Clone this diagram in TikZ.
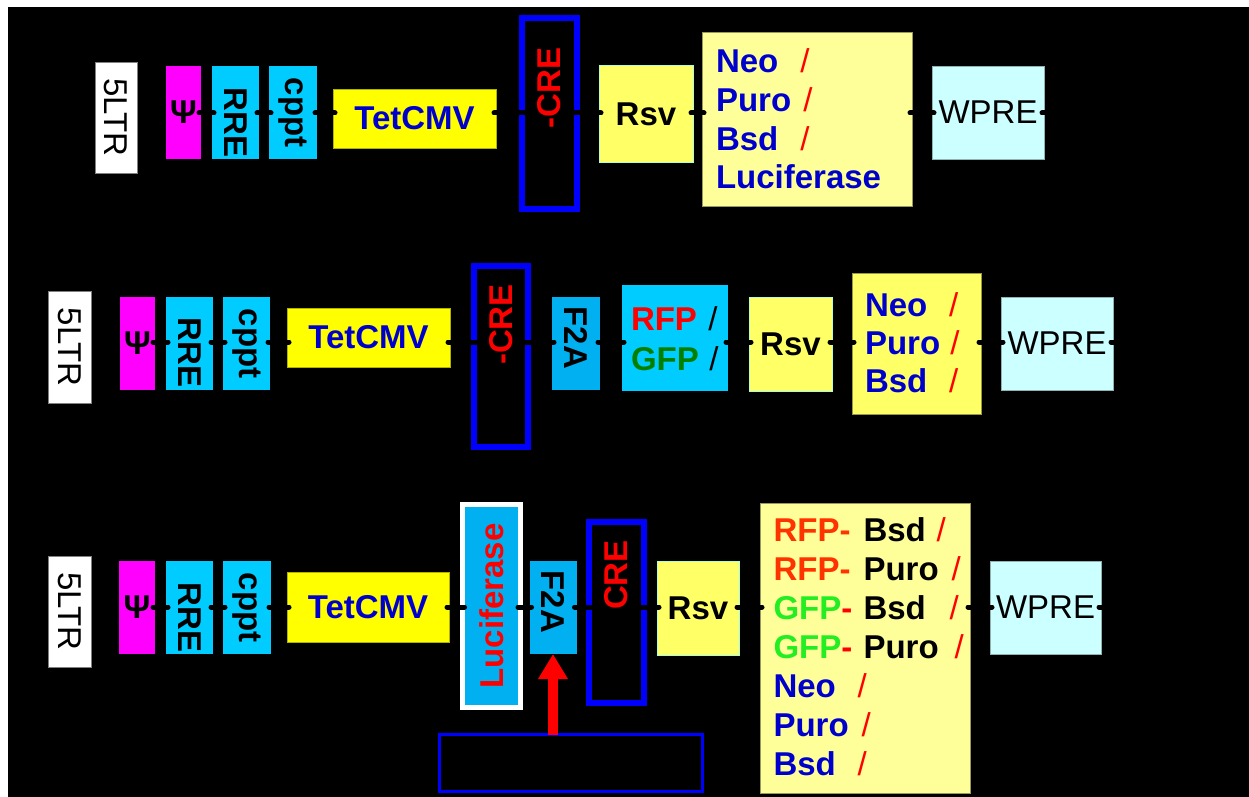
\documentclass[tikz,border=0pt]{standalone}
\usepackage{fontspec}
\setmainfont{Liberation Sans}
\usetikzlibrary{arrows.meta}
\definecolor{cyanb}{HTML}{00CCFF}
\definecolor{magb}{HTML}{FF00FF}
\definecolor{f2ab}{HTML}{00B0F0}
\definecolor{tety}{HTML}{FFFF00}
\definecolor{rsvy}{HTML}{FFFF66}
\definecolor{paley}{HTML}{FFFF99}
\definecolor{wprec}{HTML}{CCFFFF}
\definecolor{txtblue}{HTML}{0000CC}
\definecolor{crebl}{HTML}{0000FF}
\definecolor{rfpred}{HTML}{FF3300}
\definecolor{gfpdark}{HTML}{008000}
\definecolor{gfpbright}{HTML}{22EE22}
\newcommand{\gbox}[7]{\node[#1,minimum width={#4-#2},minimum height={#5-#3}] (#6) at ({(#2+#4)/2},{(#3+#5)/2}) {#7};}
\newcommand{\rotd}[1]{\rotatebox{-90}{#1}}
\newcommand{\rotu}[1]{\rotatebox{90}{#1}}
\newcommand{\blu}[2]{\textcolor{txtblue}{\bfseries\makebox[#1][l]{#2}}}
\newcommand{\blk}[2]{\textcolor{black}{\bfseries\makebox[#1][l]{#2}}}
\newcommand{\rsl}{\textcolor{red}{\mdseries/}}
\tikzset{
  every node/.style={inner sep=0pt, outer sep=0pt, font=\fontsize{33}{39}\selectfont},
  box/.style={rectangle, inner sep=0pt},
  ltr/.style={box, fill=white, draw=gray, line width=0.8pt},
  psibox/.style={box, fill=magb, font=\fontsize{33}{39}\selectfont\bfseries},
  cyanbox/.style={box, fill=cyanb, font=\fontsize{33}{39}\selectfont\bfseries},
  f2abox/.style={box, fill=f2ab, font=\fontsize{33}{39}\selectfont\bfseries},
  tetbox/.style={box, fill=tety, draw=tety!70!black, line width=0.6pt, text=txtblue, font=\fontsize{33}{39}\selectfont\bfseries},
  crebox/.style={box, draw=crebl, line width=6pt},
  rsvbox/.style={box, fill=rsvy, draw=wprec!85!green, line width=1pt, font=\fontsize{33}{39}\selectfont\bfseries},
  listbox/.style={box, fill=paley, draw=paley!60!black, line width=0.6pt},
  listboxb/.style={box, fill=rsvy, draw=rsvy!60!black, line width=0.6pt},
  wprebox/.style={box, fill=wprec, draw=wprec!70!black, line width=0.6pt},
  lucbox/.style={box, fill=f2ab, draw=white, line width=5pt, text=red, font=\fontsize{33}{39}\selectfont\bfseries},
  hole/.style={box, draw=crebl, line width=3pt},
  cretxt/.style={text=red, font=\fontsize{33}{39}\selectfont\bfseries},
  itemline/.style={anchor=base west},
  conn/.style={draw=black, line width=5pt, line cap=round, shorten <=-2pt, shorten >=-2pt},
  redarrow/.style={draw=red, line width=10pt, -{Triangle[length=25pt 0 0, width=28pt 0 0]}}
}
\begin{document}
\begin{tikzpicture}[x=1pt,y=-1pt]
\useasboundingbox (0,0) rectangle (1249,797);
\fill[white] (0,0) rectangle (1249,797);
\fill[black] (8,7) rectangle (1249,797);

% ---------------- Row 1 ----------------
\gbox{ltr}{95}{62}{137}{173}{ltr1}{\rotd{5LTR}}
\gbox{psibox}{166}{66}{201}{159}{psi1}{Ψ}
\gbox{cyanbox}{212}{66}{259}{159}{rre1}{\rotd{\hspace{20pt}RRE}}
\gbox{cyanbox}{269}{66}{317}{159}{cppt1}{\rotd{cppt}}
\gbox{tetbox}{333}{89}{496}{148}{tet1}{TetCMV}
\gbox{crebox}{522}{18}{577}{209}{cre1}{}
\node[cretxt] (cre1t) at (549,88) {\rotu{-CRE}};
\gbox{rsvbox}{599}{66}{693}{162}{rsv1}{Rsv}
\gbox{listbox}{702}{32}{912}{206}{lst1}{}
\node[itemline] (lst1a) at (716,73) {\blu{84.4pt}{Neo}\rsl};
\node[itemline] (lst1b) at (716,112) {\blu{87.4pt}{Puro}\rsl};
\node[itemline] (lst1c) at (716,150) {\blu{84.4pt}{Bsd}\rsl};
\node[itemline] (lst1d) at (716,188) {\textcolor{txtblue}{\bfseries Luciferase}};
\gbox{wprebox}{932}{66}{1044}{159}{wpre1}{WPRE}
\coordinate (axis1) at (0,113);
\coordinate (end1) at (1062,113);
\draw[conn] (psi1.east |- axis1) -- (rre1.west |- axis1);
\draw[conn] (rre1.east |- axis1) -- (cppt1.west |- axis1);
\draw[conn] (cppt1.east |- axis1) -- (tet1.west |- axis1);
\draw[conn] (tet1.east |- axis1) -- (cre1.west |- axis1);
\draw[conn] (cre1.east |- axis1) -- (rsv1.west |- axis1);
\draw[conn] (rsv1.east |- axis1) -- (lst1.west |- axis1);
\draw[conn] (lst1.east |- axis1) -- (wpre1.west |- axis1);
\draw[conn] (wpre1.east |- axis1) -- (end1);

% ---------------- Row 2 ----------------
\gbox{ltr}{48}{291}{91}{403}{ltr2}{\rotd{5LTR}}
\gbox{psibox}{120}{297}{155}{390}{psi2}{Ψ}
\gbox{cyanbox}{166}{297}{213}{390}{rre2}{\rotd{\hspace{18pt}RRE}}
\gbox{cyanbox}{223}{297}{270}{390}{cppt2}{\rotd{cppt}}
\gbox{tetbox}{287}{308}{450}{367}{tet2}{TetCMV}
\gbox{crebox}{474}{266}{528}{447}{cre2}{}
\node[cretxt] (cre2t) at (501,324.5) {\rotu{-CRE}};
\gbox{f2abox}{552}{297}{600}{390}{f2a2}{\rotd{F2A\hspace{11pt}}}
\gbox{cyanbox}{622}{285}{728}{391}{rfp2}{}
\node[itemline] (rfp2a) at (631,330) {\textcolor{red}{\bfseries\makebox[77.4pt][l]{RFP}}\textcolor{black}{/}};
\node[itemline] (rfp2b) at (631,370) {\textcolor{gfpdark}{\bfseries\makebox[78.4pt][l]{GFP}}\textcolor{black}{/}};
\gbox{rsvbox}{749}{297}{832}{391}{rsv2}{Rsv}
\gbox{listboxb}{852}{273}{981}{414}{lst2}{}
\node[itemline] (lst2a) at (865,316) {\blu{84pt}{Neo}\rsl};
\node[itemline] (lst2b) at (865,354) {\blu{85.4pt}{Puro}\rsl};
\node[itemline] (lst2c) at (865,392) {\blu{84pt}{Bsd}\rsl};
\gbox{wprebox}{1001}{297}{1113}{390}{wpre2}{WPRE}
\coordinate (axis2) at (0,342);
\coordinate (end2) at (1130,342);
\draw[conn] (psi2.east |- axis2) -- (rre2.west |- axis2);
\draw[conn] (rre2.east |- axis2) -- (cppt2.west |- axis2);
\draw[conn] (cppt2.east |- axis2) -- (tet2.west |- axis2);
\draw[conn] (tet2.east |- axis2) -- (cre2.west |- axis2);
\draw[conn] (cre2.east |- axis2) -- (f2a2.west |- axis2);
\draw[conn] (f2a2.east |- axis2) -- (rfp2.west |- axis2);
\draw[conn] (rfp2.east |- axis2) -- (rsv2.west |- axis2);
\draw[conn] (rsv2.east |- axis2) -- (lst2.west |- axis2);
\draw[conn] (lst2.east |- axis2) -- (wpre2.west |- axis2);
\draw[conn] (wpre2.east |- axis2) -- (end2);

% ---------------- Row 3 ----------------
\gbox{ltr}{48}{556}{91}{667}{ltr3}{\rotd{5LTR}}
\gbox{psibox}{119}{561}{155}{654}{psi3}{Ψ}
\gbox{cyanbox}{166}{561}{213}{654}{rre3}{\rotd{\hspace{20pt}RRE}}
\gbox{cyanbox}{223}{561}{271}{654}{cppt3}{\rotd{cppt}}
\gbox{tetbox}{287}{572}{449}{642}{tet3}{TetCMV}
\gbox{lucbox}{462.5}{504.5}{520}{707.5}{luc3}{\rotu{Luciferase}}
\gbox{f2abox}{529.5}{561}{576.5}{654}{f2a3}{\rotd{F2A\hspace{11pt}}}
\gbox{crebox}{589}{522}{643.5}{703}{cre3}{}
\node[cretxt] (cre3t) at (616,575) {\rotu{CRE}};
\gbox{rsvbox}{657}{561}{739}{655}{rsv3}{Rsv}
\gbox{listbox}{760}{503}{970}{793}{lst3}{}
\node[itemline] (lst3a) at (773.5,541.7) {\textcolor{rfpred}{\bfseries\makebox[90pt][l]{RFP-}}\blk{73pt}{Bsd}\rsl};
\node[itemline] (lst3b) at (773.5,580.5) {\textcolor{rfpred}{\bfseries\makebox[90pt][l]{RFP-}}\blk{88pt}{Puro}\rsl};
\node[itemline] (lst3c) at (773.5,619.3) {\makebox[90pt][l]{\bfseries\textcolor{gfpbright}{GFP}\textcolor{red}{-}}\blk{86pt}{Bsd}\rsl};
\node[itemline] (lst3d) at (773.5,658) {\makebox[90pt][l]{\bfseries\textcolor{gfpbright}{GFP}\textcolor{red}{-}}\blk{91pt}{Puro}\rsl};
\node[itemline] (lst3e) at (773.5,697) {\blu{84pt}{Neo}\rsl};
\node[itemline] (lst3f) at (773.5,736) {\blu{88pt}{Puro}\rsl};
\node[itemline] (lst3g) at (773.5,775) {\blu{84pt}{Bsd}\rsl};
\gbox{wprebox}{990}{561}{1101}{654}{wpre3}{WPRE}
\gbox{hole}{439.5}{734.5}{702.5}{791.5}{hole3}{}
\coordinate (axis3) at (0,607);
\coordinate (end3) at (1118,607);
\draw[conn] (psi3.east |- axis3) -- (rre3.west |- axis3);
\draw[conn] (rre3.east |- axis3) -- (cppt3.west |- axis3);
\draw[conn] (cppt3.east |- axis3) -- (tet3.west |- axis3);
\draw[conn] (tet3.east |- axis3) -- (luc3.west |- axis3);
\draw[conn] (luc3.east |- axis3) -- (f2a3.west |- axis3);
\draw[conn] (f2a3.east |- axis3) -- (cre3.west |- axis3);
\draw[conn] (cre3.east |- axis3) -- (rsv3.west |- axis3);
\draw[conn] (rsv3.east |- axis3) -- (lst3.west |- axis3);
\draw[conn] (lst3.east |- axis3) -- (wpre3.west |- axis3);
\draw[conn] (wpre3.east |- axis3) -- (end3);
\draw[redarrow] (hole3.north -| f2a3.south) -- (f2a3.south);
\end{tikzpicture}
\end{document}
